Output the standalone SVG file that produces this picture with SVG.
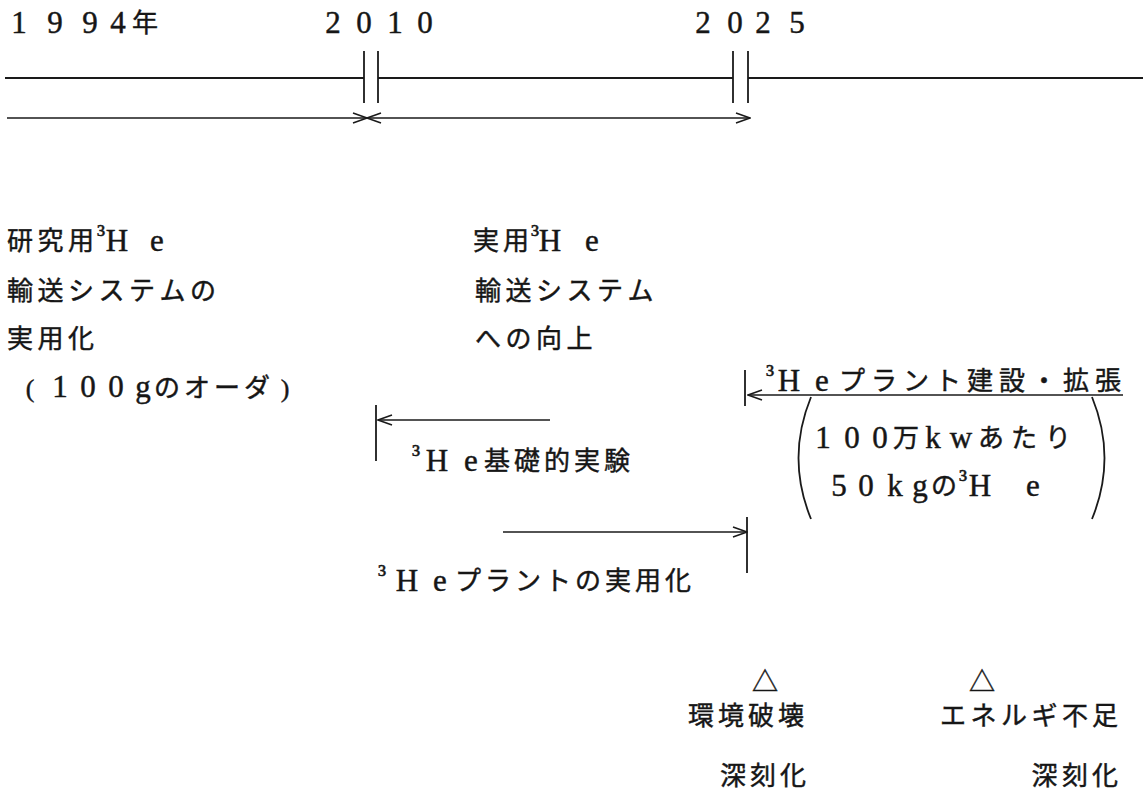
<svg xmlns="http://www.w3.org/2000/svg" width="1143" height="808" viewBox="0 0 1143 808">
<style>
  .t { font-family: "Liberation Serif", "Noto Sans CJK JP", serif; font-size: 26px; fill: #161616; stroke: #161616; stroke-width: 0.45; text-anchor: middle; }
  .l { font-size: 31px; }
  .s { font-size: 27px; }
  .ln { stroke: #1a1a1a; stroke-width: 1.8; fill: none; }
  .ar { stroke: #1a1a1a; stroke-width: 1.5; fill: none; }
</style>
<defs>
  <marker id="ah" viewBox="0 0 16 12" refX="15" refY="6" markerWidth="16" markerHeight="12" orient="auto-start-reverse" markerUnits="userSpaceOnUse">
    <path d="M1,1 L15,6 L1,11" fill="none" stroke="#1a1a1a" stroke-width="1.5"/>
  </marker>
</defs>
<rect width="1143" height="808" fill="#ffffff"/>

<g id="timeline">
  <text class="t l" x="19 55 90 118" y="33">1994<tspan class="t" x="145" y="32">年</tspan></text>
  <text class="t l" x="333 364 395 425" y="33">2010</text>
  <text class="t l" x="703 735 763 797" y="33">2025</text>
</g>

<g id="connectors">
  <line class="ln" x1="5" y1="78" x2="364" y2="78"/>
  <line class="ln" x1="378" y1="78" x2="733" y2="78"/>
  <line class="ln" x1="748" y1="78" x2="1143" y2="78"/>
  <line class="ln" x1="364" y1="51" x2="364" y2="103"/>
  <line class="ln" x1="378" y1="51" x2="378" y2="103"/>
  <line class="ln" x1="733" y1="51" x2="733" y2="103"/>
  <line class="ln" x1="748" y1="51" x2="748" y2="103"/>
  <line class="ar" x1="7" y1="118" x2="367" y2="118" marker-end="url(#ah)"/>
  <line class="ar" x1="367" y1="118" x2="750" y2="118" marker-start="url(#ah)" marker-end="url(#ah)"/>
  <line class="ar" x1="1123" y1="395" x2="748" y2="395" marker-end="url(#ah)"/>
  <line class="ln" x1="745" y1="370" x2="745" y2="406"/>
  <line class="ar" x1="550" y1="420" x2="378" y2="420" marker-end="url(#ah)"/>
  <line class="ln" x1="376" y1="405" x2="376" y2="461"/>
  <line class="ar" x1="503" y1="532" x2="747" y2="532" marker-end="url(#ah)"/>
  <line class="ln" x1="747" y1="517" x2="747" y2="573"/>
</g>

<g id="node-research">
  <text class="t" x="20 50.5 81" y="250">研究用<tspan class="s" x="101" y="243">³</tspan><tspan class="l" x="117 157" y="251">He</tspan></text>
  <text class="t" x="20 50.5 81 111.5 142 172.5 203" y="300">輸送システムの</text>
  <text class="t" x="20 50.5 81" y="348">実用化</text>
  <text class="t" x="30 60 88 116 143 167 197 227 257 285" y="397">(<tspan class="l" x="60 88 116 143">100g</tspan><tspan x="167 197 227 257">のオーダ</tspan>)</text>
</g>

<g id="node-practical">
  <text class="t" x="486 516" y="250">実用<tspan class="s" x="535" y="243">³</tspan><tspan class="l" x="550 592" y="251">He</tspan></text>
  <text class="t" x="488 518.5 549 579.5 610 640.5" y="300">輸送システム</text>
  <text class="t" x="488 518.5 549 579.5" y="348">への向上</text>
</g>

<g id="node-plant-build">
  <text class="t" y="390"><tspan class="s" x="770" y="383">³</tspan><tspan class="l" x="789 822" y="391">He</tspan><tspan x="852 884 916 948 980 1012 1044 1076 1108" y="390">プラント建設・拡張</tspan></text>
  <path class="ln" d="M811,397 Q786,458 811,519"/>
  <path class="ln" d="M1092,397 Q1117,458 1092,519"/>
  <text class="t" y="447"><tspan class="l" x="823 852 880" y="448">100</tspan><tspan x="906" y="447">万</tspan><tspan class="l" x="933 961" y="448">kw</tspan><tspan x="991 1024 1058" y="447">あたり</tspan></text>
  <text class="t" y="495"><tspan class="l" x="839 866 895 920" y="496">50kg</tspan><tspan x="944" y="495">の</tspan><tspan class="s" x="963" y="488">³</tspan><tspan class="l" x="980 1033" y="496">He</tspan></text>
</g>

<g id="node-basic-exp">
  <text class="t" y="470"><tspan class="s" x="416" y="463">³</tspan><tspan class="l" x="437 471" y="471">He</tspan><tspan x="497 527 557 587 617" y="470">基礎的実験</tspan></text>
</g>

<g id="node-plant-practical">
  <text class="t" y="590"><tspan class="s" x="382" y="583">³</tspan><tspan class="l" x="407 440" y="591">He</tspan><tspan x="468 498 528 558 588 618 648 678" y="590">プラントの実用化</tspan></text>
</g>

<g id="node-env">
  <text class="t" x="765" y="691">△</text>
  <text class="t" x="701 731 761 791" y="725">環境破壊</text>
  <text class="t" x="733 763 793" y="785">深刻化</text>
</g>

<g id="node-energy">
  <text class="t" x="982" y="691">△</text>
  <text class="t" x="953 983.5 1014 1044.5 1075 1105" y="725">エネルギ不足</text>
  <text class="t" x="1044.5 1075 1105" y="785">深刻化</text>
</g>
</svg>
